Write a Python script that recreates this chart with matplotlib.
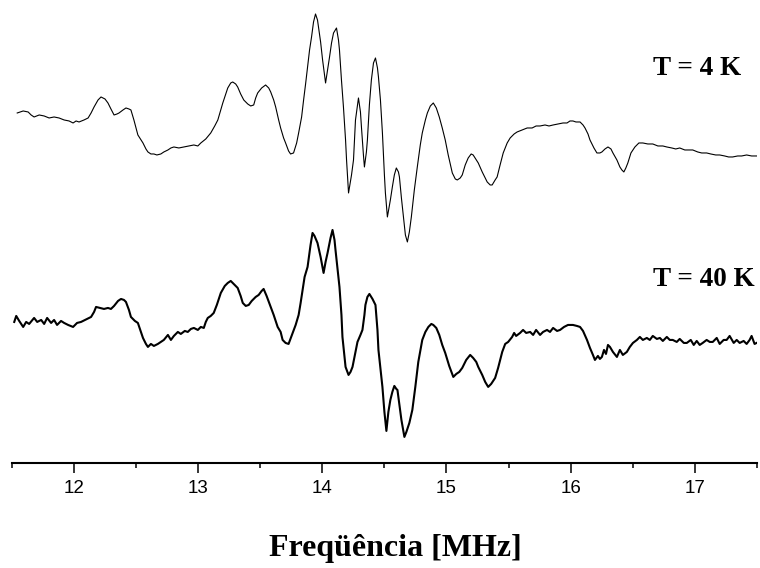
import matplotlib
matplotlib.use("Agg")
import matplotlib.pyplot as plt
from matplotlib.ticker import MultipleLocator

# Frekuensi (MHz) dan sinyal (satuan sembarang) hasil pembacaan gambar
freq4K = [11.542, 11.590, 11.630, 11.654, 11.678, 11.719, 11.759, 11.799, 11.839, 11.879,
          11.920, 11.960, 11.992, 12.016, 12.040, 12.080, 12.113, 12.137, 12.161, 12.193,
          12.217, 12.249, 12.273, 12.297, 12.322, 12.346, 12.362, 12.394, 12.418, 12.442,
          12.458, 12.482, 12.514, 12.539, 12.555, 12.579, 12.595, 12.619, 12.643, 12.667,
          12.699, 12.723, 12.756, 12.780, 12.804, 12.844, 12.884, 12.924, 12.965, 12.997,
          13.021, 13.061, 13.101, 13.133, 13.158, 13.182, 13.198, 13.222, 13.238, 13.262,
          13.278, 13.302, 13.318, 13.342, 13.367, 13.399, 13.423, 13.447, 13.463, 13.479,
          13.511, 13.543, 13.568, 13.584, 13.608, 13.624, 13.648, 13.664, 13.688, 13.704,
          13.728, 13.744, 13.768, 13.793, 13.809, 13.833, 13.849, 13.865, 13.881, 13.897,
          13.913, 13.929, 13.945, 13.961, 13.969, 13.986, 14.002, 14.026, 14.042, 14.058,
          14.074, 14.090, 14.114, 14.130, 14.138, 14.154, 14.170, 14.187, 14.195, 14.211,
          14.235, 14.251, 14.267, 14.291, 14.307, 14.315, 14.331, 14.339, 14.355, 14.363,
          14.379, 14.395, 14.412, 14.428, 14.444, 14.452, 14.468, 14.484, 14.500, 14.508,
          14.524, 14.548, 14.564, 14.580, 14.596, 14.613, 14.621, 14.637, 14.653, 14.669,
          14.685, 14.701, 14.717, 14.741, 14.765, 14.789, 14.805, 14.830, 14.846, 14.870,
          14.894, 14.918, 14.942, 14.966, 14.990, 15.014, 15.047, 15.071, 15.087, 15.111,
          15.127, 15.151, 15.175, 15.199, 15.215, 15.240, 15.256, 15.288, 15.328, 15.352,
          15.368, 15.392, 15.408, 15.432, 15.457, 15.489, 15.513, 15.545, 15.569, 15.609,
          15.650, 15.690, 15.722, 15.754, 15.794, 15.826, 15.859, 15.899, 15.939, 15.971,
          15.995, 16.019, 16.043, 16.076, 16.100, 16.116, 16.140, 16.156, 16.188, 16.212,
          16.236, 16.252, 16.277, 16.301, 16.325, 16.341, 16.373, 16.397, 16.413, 16.429,
          16.445, 16.461, 16.486, 16.518, 16.550, 16.582, 16.622, 16.662, 16.703, 16.743,
          16.775, 16.815, 16.847, 16.879, 16.920, 16.952, 16.984, 17.024, 17.056, 17.096,
          17.129, 17.169, 17.201, 17.241, 17.273, 17.305, 17.346, 17.378, 17.418, 17.458,
          17.506]
sinyal4K = [0, 2, 1, -2, -4, -2, -3, -5, -4, -5,
            -7, -8, -10, -8, -9, -7, -5, 0, 6, 13,
            16, 14, 10, 4, -2, -1, 0, 3, 5, 4,
            3, -7, -22, -27, -30, -36, -39, -41, -41, -42,
            -41, -39, -37, -35, -34, -35, -34, -33, -32, -33,
            -30, -26, -20, -13, -7, 3, 10, 19, 25, 30,
            31, 29, 26, 19, 13, 9, 7, 8, 15, 20,
            25, 28, 25, 21, 13, 6, -7, -15, -25, -30,
            -38, -41, -40, -30, -20, -4, 13, 29, 46, 63,
            76, 91, 99, 93, 86, 71, 53, 30, 43, 56,
            70, 80, 85, 73, 63, 33, 6, -27, -47, -80,
            -62, -47, -7, 15, 1, -14, -42, -54, -39, -27,
            8, 33, 50, 55, 45, 36, 13, -20, -62, -80,
            -104, -87, -74, -62, -55, -59, -64, -85, -104, -122,
            -129, -119, -104, -77, -54, -32, -20, -7, 0, 7,
            10, 5, -4, -15, -27, -42, -60, -66, -67, -65,
            -62, -52, -45, -41, -42, -47, -50, -59, -69, -72,
            -72, -67, -64, -52, -40, -30, -25, -21, -19, -17,
            -15, -15, -13, -13, -12, -13, -12, -11, -10, -10,
            -8, -8, -9, -9, -12, -15, -21, -27, -35, -40,
            -40, -39, -36, -34, -36, -40, -47, -54, -57, -59,
            -55, -50, -40, -34, -30, -30, -31, -31, -33, -33,
            -34, -35, -36, -35, -37, -37, -37, -39, -40, -40,
            -41, -42, -42, -43, -44, -44, -43, -43, -42, -43,
            -43]

freq40K = [11.518, 11.534, 11.558, 11.590, 11.614, 11.638, 11.678, 11.703, 11.735, 11.759,
           11.783, 11.815, 11.839, 11.863, 11.895, 11.920, 11.952, 11.992, 12.024, 12.056,
           12.088, 12.121, 12.137, 12.161, 12.177, 12.209, 12.241, 12.273, 12.297, 12.322,
           12.354, 12.378, 12.402, 12.418, 12.442, 12.458, 12.490, 12.514, 12.539, 12.555,
           12.579, 12.595, 12.619, 12.643, 12.675, 12.699, 12.723, 12.756, 12.780, 12.804,
           12.836, 12.860, 12.892, 12.916, 12.941, 12.965, 12.997, 13.021, 13.045, 13.061,
           13.077, 13.101, 13.125, 13.150, 13.182, 13.214, 13.238, 13.262, 13.286, 13.318,
           13.342, 13.359, 13.383, 13.407, 13.431, 13.463, 13.487, 13.511, 13.527, 13.551,
           13.584, 13.608, 13.640, 13.664, 13.680, 13.704, 13.728, 13.752, 13.785, 13.809,
           13.825, 13.841, 13.857, 13.881, 13.905, 13.921, 13.937, 13.961, 13.986, 14.010,
           14.026, 14.042, 14.066, 14.082, 14.098, 14.106, 14.122, 14.138, 14.154, 14.162,
           14.187, 14.211, 14.227, 14.243, 14.267, 14.283, 14.307, 14.323, 14.339, 14.347,
           14.363, 14.379, 14.404, 14.428, 14.444, 14.452, 14.468, 14.484, 14.500, 14.516,
           14.532, 14.548, 14.564, 14.580, 14.596, 14.605, 14.621, 14.637, 14.661, 14.677,
           14.701, 14.725, 14.749, 14.773, 14.805, 14.830, 14.854, 14.878, 14.894, 14.918,
           14.942, 14.966, 14.990, 15.022, 15.055, 15.079, 15.103, 15.127, 15.159, 15.191,
           15.215, 15.240, 15.256, 15.288, 15.312, 15.336, 15.360, 15.392, 15.416, 15.449,
           15.473, 15.497, 15.529, 15.545, 15.561, 15.593, 15.617, 15.642, 15.674, 15.698,
           15.722, 15.754, 15.778, 15.810, 15.834, 15.859, 15.891, 15.915, 15.947, 15.979,
           16.019, 16.051, 16.076, 16.100, 16.132, 16.156, 16.180, 16.196, 16.220, 16.236,
           16.252, 16.269, 16.285, 16.301, 16.317, 16.341, 16.373, 16.397, 16.421, 16.453,
           16.477, 16.502, 16.534, 16.558, 16.582, 16.614, 16.638, 16.662, 16.695, 16.719,
           16.743, 16.775, 16.799, 16.823, 16.855, 16.879, 16.912, 16.936, 16.968, 16.992,
           17.016, 17.040, 17.064, 17.096, 17.121, 17.145, 17.177, 17.201, 17.233, 17.257,
           17.281, 17.314, 17.338, 17.362, 17.394, 17.418, 17.442, 17.458, 17.482, 17.498]
sinyal40K = [0, 6, 1, -5, 0, -2, 4, 0, 2, -2,
             4, -1, 2, -3, 1, -1, -3, -5, -1, 0,
             2, 4, 5, 10, 15, 14, 13, 14, 13, 16,
             21, 23, 22, 20, 12, 5, 1, -1, -10, -16,
             -22, -25, -22, -24, -22, -20, -18, -13, -18, -14,
             -10, -12, -9, -10, -7, -6, -8, -5, -6, 0,
             4, 6, 9, 17, 29, 36, 39, 41, 38, 34,
             26, 19, 16, 17, 21, 25, 27, 31, 33, 26,
             15, 7, -5, -10, -18, -21, -22, -14, -3, 7,
             19, 32, 45, 55, 77, 89, 86, 79, 65, 49,
             60, 69, 84, 92, 82, 72, 54, 35, 7, -15,
             -45, -53, -50, -45, -30, -20, -13, -8, 7, 17,
             25, 28, 23, 17, -8, -28, -46, -65, -90, -109,
             -90, -78, -70, -64, -67, -68, -83, -98, -115, -110,
             -101, -88, -65, -40, -18, -10, -5, -2, -3, -6,
             -13, -23, -31, -44, -55, -52, -50, -46, -38, -33,
             -36, -40, -45, -53, -60, -65, -62, -56, -46, -30,
             -22, -20, -15, -11, -14, -11, -8, -11, -10, -13,
             -8, -13, -10, -8, -10, -6, -9, -8, -5, -3,
             -3, -4, -5, -9, -18, -26, -33, -38, -34, -37,
             -35, -28, -32, -23, -25, -30, -35, -28, -33, -30,
             -25, -21, -18, -15, -18, -16, -18, -14, -17, -16,
             -19, -15, -18, -18, -20, -17, -21, -21, -18, -23,
             -19, -23, -21, -18, -20, -20, -16, -22, -18, -18,
             -14, -21, -18, -21, -19, -22, -18, -14, -22, -21]

# Pergeseran vertikal supaya dua spektrum bertumpuk
offset4K = 350
offset40K = 141

fig = plt.figure(figsize=(7.6, 5.68), dpi=100)
ax = fig.add_axes([0.0158, 0.185, 0.980, 0.815])

ax.plot(freq4K, [s + offset4K for s in sinyal4K], color='black', linewidth=0.8)
ax.plot(freq40K, [s + offset40K for s in sinyal40K], color='black', linewidth=1.5)

ax.set_xlim(11.5, 17.5)
ax.set_ylim(0, 463)

for side in ['top', 'right', 'left']:
    ax.spines[side].set_visible(False)
ax.spines['bottom'].set_linewidth(1.5)
ax.set_yticks([])

ax.xaxis.set_major_locator(MultipleLocator(1))
ax.xaxis.set_minor_locator(MultipleLocator(0.5))
ax.tick_params(axis='x', which='major', length=7, width=1.1, pad=5, labelsize=13.5)
ax.tick_params(axis='x', which='minor', length=3.5, width=1.1)
for lbl in ax.get_xticklabels():
    lbl.set_fontfamily('Liberation Sans')

ax.text(0.861, 0.853, "T = 4 K", transform=ax.transAxes, fontsize=19.5,
        fontweight='bold', family='Liberation Serif', ha='left', va='center')
ax.text(0.861, 0.397, "T = 40 K", transform=ax.transAxes, fontsize=19.5,
        fontweight='bold', family='Liberation Serif', ha='left', va='center')

fig.text(0.52, 0.035, "Freqüência [MHz]", fontsize=23, fontweight='bold',
         family='Liberation Serif', ha='center', va='center')

plt.savefig("out.png", dpi=100)
plt.close()
